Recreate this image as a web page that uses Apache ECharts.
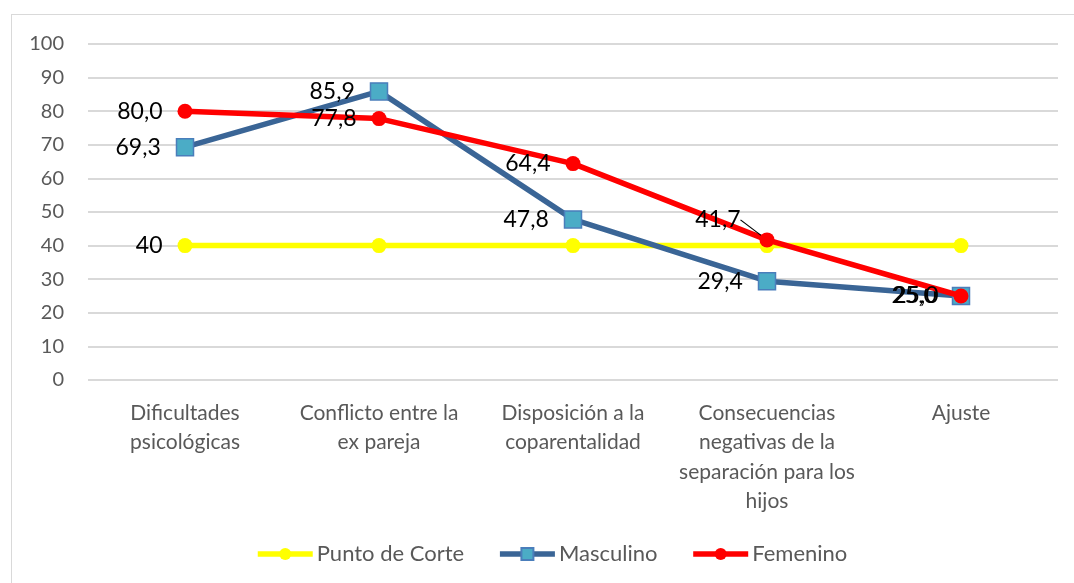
<!DOCTYPE html>
<html>
<head>
<meta charset="utf-8">
<script src="https://cdn.jsdelivr.net/npm/echarts@6/dist/echarts.min.js"></script>
<style>
  html, body { margin: 0; padding: 0; background: #fff; }
  #frame {
    position: absolute; left: 11px; top: 14px; width: 1075px; height: 580px;
    border: 1.5px solid #d9d9d9; box-sizing: border-box;
  }
  #chart { position: absolute; left: 0; top: 0; width: 1074px; height: 583px; }
</style>
</head>
<body>
<div id="frame"></div>
<div id="chart"></div>
<script>
// Datos del gráfico
const categories = [
  'Dificultades\npsicológicas',
  'Conflicto entre la\nex pareja',
  'Disposición a la\ncoparentalidad',
  'Consecuencias\nnegativas de la\nseparación para los\nhijos',
  'Ajuste'
];
const puntoCorte = [40, 40, 40, 40, 40];
const masculino = [69.3, 85.9, 47.8, 29.4, 25.0];
const femenino = [80.0, 77.8, 64.4, 41.7, 25.0];
const yTicks = { min: 0, max: 100, interval: 10 };

const fmt = (p) => p.value.toFixed(1).replace('.', ',');
const labelBase = {
  show: true,
  position: 'left',
  distance: 15,
  color: '#000',
  fontFamily: 'Lato',
  fontSize: 23,
  formatter: fmt
};

const chart = echarts.init(document.getElementById('chart'));

const option = {
  animation: false,
  grid: { left: 88, right: 16, top: 44, bottom: 203 },
  legend: {
    bottom: 13,
    left: 250,
    itemWidth: 55,
    itemHeight: 15,
    itemGap: 33,
    textStyle: { color: '#595959', fontFamily: 'Lato', fontSize: 22, padding: [0, 0, 0, -1] },
    data: [
      { name: 'Punto de Corte', lineStyle: { width: 5.5 } },
      { name: 'Masculino', lineStyle: { width: 5.5 } },
      { name: 'Femenino', lineStyle: { width: 5.5 } }
    ]
  },
  xAxis: {
    type: 'category',
    data: categories,
    axisLine: { show: false },
    axisTick: { show: false },
    axisLabel: {
      color: '#595959',
      fontFamily: 'Lato',
      fontSize: 21,
      lineHeight: 29.5,
      margin: 18,
      interval: 0
    }
  },
  yAxis: {
    type: 'value',
    min: yTicks.min,
    max: yTicks.max,
    interval: yTicks.interval,
    axisLine: { show: false },
    axisTick: { show: false },
    axisLabel: { color: '#595959', fontFamily: 'Lato', fontSize: 20, margin: 24 },
    splitLine: { lineStyle: { color: '#d9d9d9', width: 2 } }
  },
  series: [
    {
      name: 'Punto de Corte',
      type: 'line',
      data: puntoCorte.map((v, i) => i === 0
        ? { value: v, label: { show: true, formatter: (p) => String(p.value) } }
        : v),
      symbol: 'circle',
      symbolSize: 15,
      lineStyle: { color: '#ffff00', width: 5.5 },
      itemStyle: { color: '#ffff00' },
      label: { ...labelBase, show: false },
      z: 2
    },
    {
      name: 'Masculino',
      type: 'line',
      data: masculino,
      symbol: 'rect',
      symbolSize: 17,
      lineStyle: { color: '#3a6596', width: 5.5 },
      itemStyle: { color: '#4bacc6', borderColor: '#4a7ebb', borderWidth: 1.5 },
      label: labelBase,
      z: 3
    },
    {
      name: 'Femenino',
      type: 'line',
      data: femenino.map((v, i) => i === 3
        ? { value: v, labelLine: { show: true, lineStyle: { color: '#000', width: 1.2 } } }
        : v),
      symbol: 'circle',
      symbolSize: 15,
      lineStyle: { color: '#ff0000', width: 5.5 },
      itemStyle: { color: '#ff0000' },
      label: labelBase,
      labelLayout: (p) => p.dataIndex === 3 ? { dx: -4, dy: -20 } : {},
      labelLine: { show: false },
      z: 4
    }
  ]
};

chart.setOption(option);
</script>
</body>
</html>
